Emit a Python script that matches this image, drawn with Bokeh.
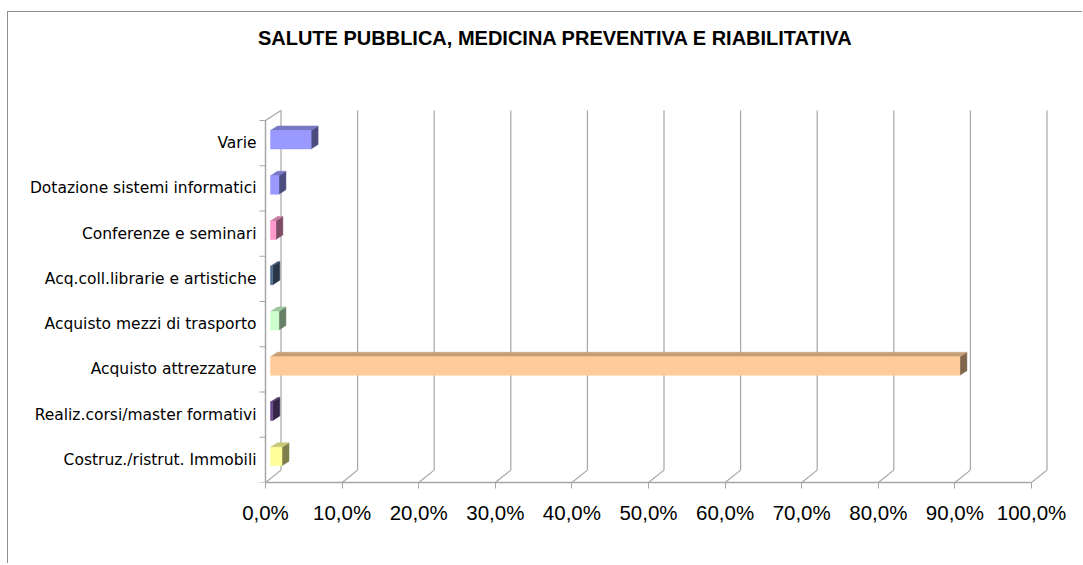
from bokeh.plotting import figure
from bokeh.models import Range1d, FixedTicker, Label
from bokeh.embed import file_html
from bokeh.resources import INLINE

# ---------------- data ----------------
CATEGORIES = [
    "Costruz./ristrut. Immobili",
    "Realiz.corsi/master formativi",
    "Acquisto attrezzature",
    "Acquisto mezzi di trasporto",
    "Acq.coll.librarie e artistiche",
    "Conferenze e seminari",
    "Dotazione sistemi informatici",
    "Varie",
]
VALUES = [1.5, 0.3, 90.0, 1.1, 0.3, 0.7, 1.1, 5.3]
FRONT_COLORS = ["#FFFF99", "#6A4A8C", "#FFCC99", "#CCFFCC",
                "#4F6B8E", "#FF99CC", "#9999FF", "#9999FF"]
X_TICKS = [0, 10, 20, 30, 40, 50, 60, 70, 80, 90, 100]
X_LABELS = ["0,0%", "10,0%", "20,0%", "30,0%", "40,0%", "50,0%",
            "60,0%", "70,0%", "80,0%", "90,0%", "100,0%"]
TITLE = "SALUTE PUBBLICA, MEDICINA PREVENTIVA E RIABILITATIVA"

# ---------------- geometry (pixels) ----------------
W, H = 1075, 552
AXIS_X = 257            # canvas x of the 0 % line
LEFT, RIGHT, TOP, BOTTOM = 244, 30, 0, 82
FRAME_W = W - LEFT - RIGHT
FRAME_H = H - TOP - BOTTOM
PX_100 = 766.0          # pixels for 100 %
PX_CAT = 45.25          # pixels per category row
N = len(CATEGORIES)
px_x = PX_100 / 100.0
px_y = PX_CAT
x_start = -(AXIS_X - LEFT) / px_x
x_end = x_start + FRAME_W / px_x
y_end = FRAME_H / px_y

WALL_DX = 15.5 / px_x
WALL_DY = 12.4 / px_y          # floor depth
WALL_DY_TOP = 10.0 / px_y      # depth at top of wall
BAR_FX, BAR_FY = 5 / px_x, 3.4 / px_y     # bar front-face shift
BAR_DX, BAR_DY = 7 / px_x, 4.5 / px_y     # bar depth
BAR_H = 18.5 / px_y
TICK_LEN = 6 / px_x


def shade(hexcol, f):
    r, g, b = (int(hexcol[i:i + 2], 16) for i in (1, 3, 5))
    return "#%02X%02X%02X" % (int(r * f), int(g * f), int(b * f))


p = figure(width=W, height=H, output_backend="svg", toolbar_location=None,
           x_range=Range1d(x_start, x_end), y_range=Range1d(0, y_end),
           min_border_left=LEFT, min_border_right=RIGHT,
           min_border_top=TOP, min_border_bottom=BOTTOM)
p.outline_line_color = None
p.background_fill_color = "white"
p.border_fill_color = "white"
p.xgrid.visible = False
p.ygrid.visible = False
p.styles = {"border-left": "1px solid #8F8F8F", "border-top": "1px solid #8F8F8F",
            "margin-top": "11px", "margin-left": "7px"}

GRID = "#A6A6A6"
# 3D walls: diagonals on the floor and back-wall gridlines
x0s, y0s, x1s, y1s = [], [], [], []
for t in X_TICKS:
    x0s += [t, t + WALL_DX]
    y0s += [0, WALL_DY]
    x1s += [t + WALL_DX, t + WALL_DX]
    y1s += [WALL_DY, N + WALL_DY_TOP]
# top of the side wall
x0s.append(0); y0s.append(N); x1s.append(WALL_DX); y1s.append(N + WALL_DY_TOP)
p.segment(x0s, y0s, x1s, y1s, line_color=GRID, line_width=1.2)

# category axis line and its tick marks at the category boundaries
bounds = [float(i) for i in range(N + 1)]
p.segment([0], [0], [0], [N], line_color=GRID, line_width=1.5)
p.segment([-TICK_LEN] * len(bounds), bounds, [0] * len(bounds), bounds,
          line_color=GRID, line_width=1.2)

# 3D bars
fx, fy, fc = [], [], []
for i, (v, col) in enumerate(zip(VALUES, FRONT_COLORS)):
    c = i + 0.5
    xa = BAR_FX
    xb = BAR_FX + v
    yb = c - BAR_H / 2 + BAR_FY
    yt = c + BAR_H / 2 + BAR_FY
    # side face
    fx.append([xb, xb, xb + BAR_DX, xb + BAR_DX])
    fy.append([yb, yt, yt + BAR_DY, yb + BAR_DY])
    fc.append(shade(col, 0.5))
    # top face
    fx.append([xa, xb, xb + BAR_DX, xa + BAR_DX])
    fy.append([yt, yt, yt + BAR_DY, yt + BAR_DY])
    fc.append(shade(col, 0.78))
    # front face
    fx.append([xa, xb, xb, xa])
    fy.append([yb, yb, yt, yt])
    fc.append(col)
p.patches(fx, fy, fill_color=fc, line_color=fc, line_width=0.5)

# title (inside the top of the plotting area)
title_x = (547 - AXIS_X) / px_x
title_y = (FRAME_H - 25) / px_y
p.add_layout(Label(x=title_x, y=title_y, text=TITLE, text_align="center",
                   text_baseline="middle", text_font="Liberation Sans",
                   text_font_size="20px", text_font_style="bold",
                   text_color="black"))

# x axis
xa_ = p.xaxis[0]
xa_.ticker = FixedTicker(ticks=X_TICKS)
xa_.major_label_overrides = {t: l for t, l in zip(X_TICKS, X_LABELS)}
xa_.bounds = (0, 100)
xa_.axis_line_color = GRID
xa_.axis_line_width = 1.5
xa_.major_tick_line_color = GRID
xa_.major_tick_out = 6
xa_.major_tick_in = 0
xa_.minor_tick_line_color = None
xa_.major_label_standoff = 12
xa_.major_label_text_font = "Liberation Sans"
xa_.major_label_text_font_size = "20.5px"
xa_.major_label_text_color = "black"

# y axis (category labels)
centers = [i + 0.5 for i in range(N)]
ya = p.yaxis[0]
ya.ticker = FixedTicker(ticks=centers)
ya.major_label_overrides = {c: name for c, name in zip(centers, CATEGORIES)}
ya.axis_line_color = None
ya.major_tick_line_color = None
ya.minor_tick_line_color = None
ya.major_tick_out = 0
ya.major_tick_in = 0
ya.minor_tick_out = 0
ya.minor_tick_in = 0
ya.major_label_standoff = -(AXIS_X - LEFT) + 9
ya.major_label_text_font = "DejaVu Sans"
ya.major_label_text_font_size = "15.5px"
ya.major_label_text_color = "black"

open("out.html", "w").write(file_html(p, INLINE))
